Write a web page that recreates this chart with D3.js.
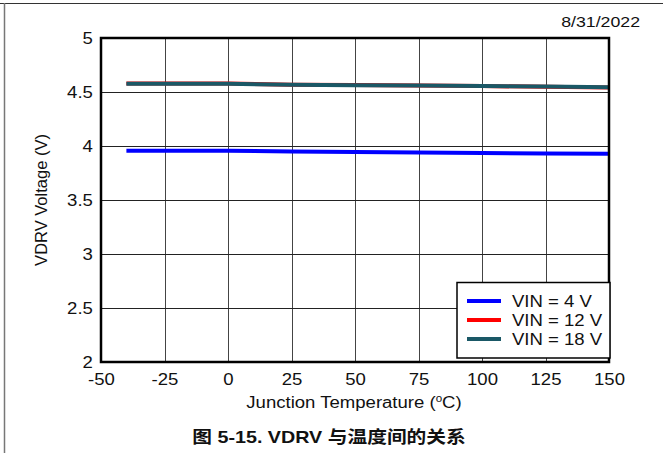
<!DOCTYPE html>
<html><head><meta charset="utf-8">
<script src="https://cdn.jsdelivr.net/npm/d3@7"></script>
<style>body{margin:0;background:#fff}svg{display:block}text{font-family:"Liberation Sans",Arial,"Noto Sans CJK SC",sans-serif}</style>
</head><body>
<script>
const temps = [-40, -25, 0, 25, 50, 75, 100, 125, 150];
const vin4 = [3.957, 3.957, 3.957, 3.950, 3.945, 3.940, 3.935, 3.930, 3.928];
const vin12 = [4.578, 4.578, 4.578, 4.568, 4.564, 4.560, 4.555, 4.548, 4.541];
const vin18 = [4.577, 4.577, 4.577, 4.567, 4.563, 4.560, 4.556, 4.550, 4.545];
const seriesNames = ["VIN = 4 V", "VIN = 12 V", "VIN = 18 V"];
const seriesColors = ["#0000ff", "#ff0000", "#1a5866"];
const xTicks = [-50, -25, 0, 25, 50, 75, 100, 125, 150];
const yTicks = [2, 2.5, 3, 3.5, 4, 4.5, 5];

const W = 663, H = 453, SX = 1.16;
const svg = d3.select("body").append("svg").attr("width", W).attr("height", H);
const L = 101, R = 609, T = 38, B = 362;
const x = d3.scaleLinear().domain([-50, 150]).range([L, R]);
const y = d3.scaleLinear().domain([2, 5]).range([B, T]);

function stretchedText(px, py, anchor, size) {
  return svg.append("text").attr("transform", `translate(${px},${py}) scale(${SX},1)`)
    .attr("text-anchor", anchor).attr("font-size", size).attr("fill", "#111");
}

// frame
svg.append("line").attr("x1", 0).attr("x2", W).attr("y1", 3.5).attr("y2", 3.5).attr("stroke", "#333").attr("stroke-width", 1);
svg.append("line").attr("x1", 4.5).attr("x2", 4.5).attr("y1", 3).attr("y2", H).attr("stroke", "#777").attr("stroke-width", 1.5);

stretchedText(640, 27, "end", 15.3).text("8/31/2022");

// grid
const g = svg.append("g");
g.selectAll(".vg").data(xTicks.slice(1, -1)).join("line")
  .attr("x1", d => Math.round(x(d)) + 0.5).attr("x2", d => Math.round(x(d)) + 0.5)
  .attr("y1", T).attr("y2", B).attr("stroke", "#444").attr("stroke-width", 1);
g.selectAll(".hg").data(yTicks.slice(1, -1)).join("line")
  .attr("x1", L).attr("x2", R)
  .attr("y1", d => Math.round(y(d)) + 0.5).attr("y2", d => Math.round(y(d)) + 0.5)
  .attr("stroke", "#222").attr("stroke-width", 1);

// axes labels via d3 axes
const xAxis = svg.append("g").attr("transform", `translate(0,${B})`)
  .call(d3.axisBottom(x).tickValues(xTicks).tickSize(0).tickPadding(12).tickFormat(d => d));
xAxis.select(".domain").remove();
xAxis.selectAll("text").attr("font-size", 16).attr("fill", "#111")
  .attr("transform", `scale(${SX},1)`).style("font-family", '"Liberation Sans",Arial,sans-serif');
const yAxis = svg.append("g").attr("transform", `translate(${L},0)`)
  .call(d3.axisLeft(y).tickValues(yTicks).tickSize(0).tickPadding(7).tickFormat(d => d));
yAxis.select(".domain").remove();
yAxis.selectAll("text").attr("font-size", 16).attr("fill", "#111")
  .attr("transform", `scale(${SX},1)`).style("font-family", '"Liberation Sans",Arial,sans-serif');

// lines
const allSeries = [vin4, vin12, vin18];
const line = d3.line().x((d, i) => x(temps[i])).y(d => y(d));
allSeries.forEach((s, k) => {
  svg.append("path").datum(s).attr("d", line).attr("fill", "none")
    .attr("stroke", seriesColors[k]).attr("stroke-width", 4);
});

// plot border
svg.append("rect").attr("x", L).attr("y", T).attr("width", R - L).attr("height", B - T)
  .attr("fill", "none").attr("stroke", "#000").attr("stroke-width", 2.5);

// legend
const lg = svg.append("g");
lg.append("rect").attr("x", 457).attr("y", 282.5).attr("width", 153).attr("height", 75.5)
  .attr("fill", "#fff").attr("stroke", "#000").attr("stroke-width", 1.5);
seriesNames.forEach((n, k) => {
  const yy = 301 + k * 19;
  lg.append("line").attr("x1", 467).attr("x2", 501).attr("y1", yy).attr("y2", yy)
    .attr("stroke", seriesColors[k]).attr("stroke-width", 4);
  stretchedText(512, yy + 6, "start", 16).text(n);
});

// axis titles
stretchedText(354, 408, "middle", 16)
  .html('Junction Temperature (<tspan baseline-shift="super" font-size="10">o</tspan>C)');
svg.append("text").attr("transform", "translate(47,200) rotate(-90)").attr("text-anchor", "middle").attr("font-size", 16.5).attr("fill", "#111")
  .text("VDRV Voltage (V)");

stretchedText(329, 443, "middle", 17).attr("font-weight", "bold")
  .text("图 5-15. VDRV 与温度间的关系");
</script>
</body></html>
